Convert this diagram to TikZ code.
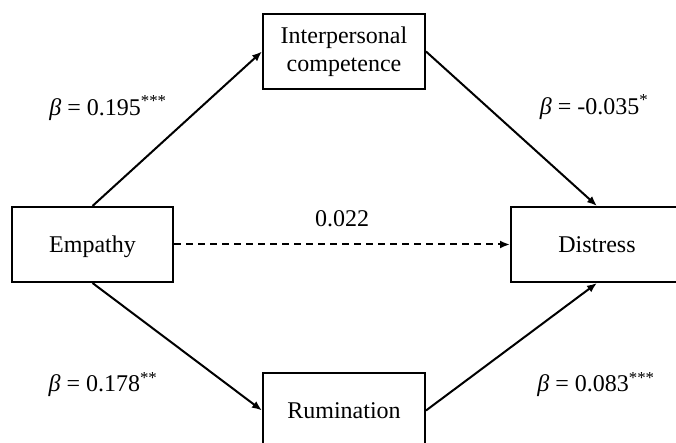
\documentclass[tikz,border=0pt]{standalone}
\usepackage{fontspec}
\setmainfont{Liberation Serif}
\usetikzlibrary{arrows.meta}
\begin{document}
\begin{tikzpicture}[x=1bp,y=1bp,
  box/.style={draw, line width=2bp, minimum height=75bp, inner sep=0pt, text height=17bp, text depth=0pt},
  twoline/.style={draw, line width=2bp, minimum height=75bp, inner sep=0pt, align=center},
  conn/.style={line width=2bp, -{Latex[length=10bp,width=8bp]}},
  dashconn/.style={conn, dash pattern=on 7bp off 5bp},
  coef/.style={anchor=base, inner sep=0pt},
  font=\fontsize{24bp}{28bp}\selectfont]
\useasboundingbox (0,0) rectangle (676,443);
\clip (0,0) rectangle (676,443);
\node[box, minimum width=161bp] (emp) at (92.5,198.5) {Empathy};
\node[twoline, minimum width=162bp] (inter) at (344,391.5) {Interpersonal\\competence};
\node[box, minimum width=172bp] (dis) at (597,198.5) {Distress};
\node[box, minimum width=162bp] (rum) at (344,32.5) {Rumination};
\draw[conn] (emp.north) -- (inter.west);
\draw[conn] (inter.east) -- (dis.north);
\draw[conn] (emp.south) -- (rum.west);
\draw[conn] (rum.east) -- (dis.south);
\draw[dashconn] (emp.east) -- (dis.west);
\node[coef] (l1) at (108,327) {\textit{β} = 0.195\textsuperscript{***}};
\node[coef] (l2) at (594,328) {\textit{β} = -0.035\textsuperscript{*}};
\node[coef] (l3) at (103,51) {\textit{β} = 0.178\textsuperscript{**}};
\node[coef] (l4) at (596,51) {\textit{β} = 0.083\textsuperscript{***}};
\node[coef] (l5) at (342,216) {0.022};
\end{tikzpicture}
\end{document}
